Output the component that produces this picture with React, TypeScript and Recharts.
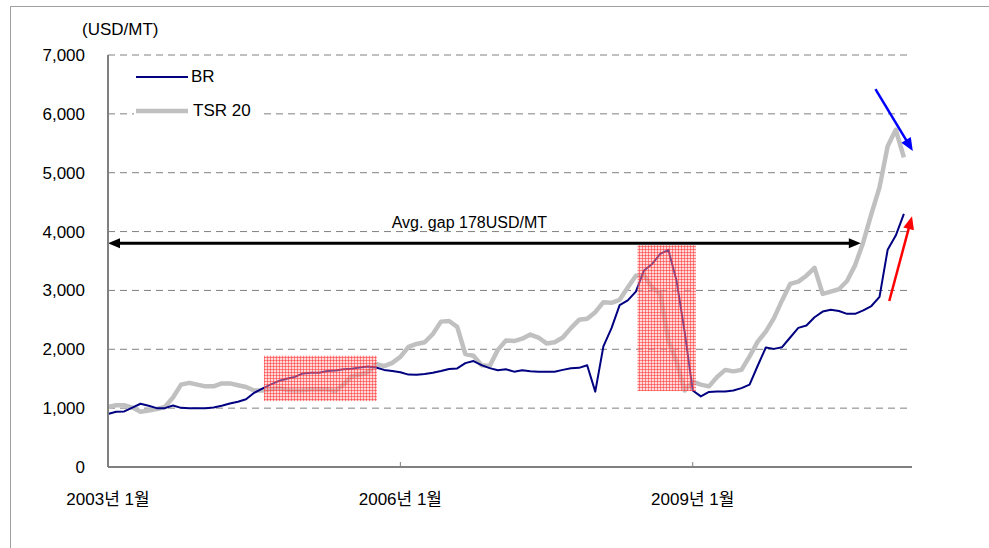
import React from "react";
import {
  LineChart,
  Line,
  XAxis,
  YAxis,
  CartesianGrid,
  Legend,
  ReferenceArea,
  ReferenceLine,
} from "recharts";

// monthly prices, Jan 2003 .. Mar 2011 (USD/MT)
const brPrice = [
  900, 940, 945, 1010, 1075, 1040, 1000, 1000, 1045, 1005, 1000, 1000,
  1000, 1010, 1040, 1080, 1110, 1150, 1260, 1330, 1400, 1460, 1500, 1530,
  1590, 1600, 1600, 1630, 1640, 1660, 1668, 1690, 1708, 1691, 1650, 1630,
  1610, 1570, 1567, 1580, 1600, 1630, 1665, 1675, 1765, 1800, 1730, 1680,
  1645, 1660, 1620, 1645, 1625, 1620, 1620, 1620, 1650, 1677, 1685, 1730,
  1280, 2050, 2360, 2750, 2830, 2980, 3340, 3450, 3620, 3690, 3170, 2300,
  1300, 1200, 1275, 1283, 1283, 1300, 1340, 1400, 1720, 2030, 2007, 2036,
  2200, 2364, 2404, 2545, 2641, 2670, 2650, 2602, 2602, 2660, 2735, 2890,
  3690, 3932, 4300,
];

const tsrPrice = [
  1020, 1050, 1050, 1010, 940, 960, 985, 1020, 1180, 1400, 1430, 1400,
  1370, 1370, 1420, 1420, 1390, 1360, 1300, 1300, 1320, 1340, 1310, 1300,
  1305, 1320, 1320, 1320, 1290, 1400, 1540, 1570, 1610, 1750, 1715, 1770,
  1870, 2040, 2090, 2120, 2260, 2470, 2480, 2380, 1920, 1890, 1730, 1715,
  1990, 2150, 2140, 2180, 2250, 2200, 2100, 2120, 2200, 2360, 2500, 2517,
  2630, 2800, 2790, 2840, 3050, 3250, 3260, 3050, 2950, 2150, 1800, 1300,
  1450, 1400, 1370, 1530, 1650, 1625, 1650, 1880, 2130, 2300, 2530, 2830,
  3110, 3150, 3250, 3383, 2941, 2981, 3020, 3160, 3430, 3819, 4300, 4750,
  5450, 5730, 5262,
];

const tickMonths = [0, 36, 72];
const tickLabels = ["2003년 1월", "2006년 1월", "2009년 1월"];
const yTicks = [0, 1000, 2000, 3000, 4000, 5000, 6000, 7000];

// shaded periods and arrows, in chart units (month index, USD/MT)
const shadedSpans = [
  { x1: 19.2, x2: 33.1, y1: 1120, y2: 1890 },
  { x1: 65.2, x2: 72.4, y1: 1290, y2: 3770 },
];
const gapArrow = { from: 0, to: 92.7, level: 3800, label: "Avg. gap 178USD/MT" };
const tsrArrow = [{ x: 94.5, y: 6420 }, { x: 99.1, y: 5370 }];
const brArrow = [{ x: 96.2, y: 2820 }, { x: 99.0, y: 4260 }];

const months = brPrice.map(
  (_, i) => `${2003 + Math.floor(i / 12)}-${String((i % 12) + 1).padStart(2, "0")}`
);
const data = brPrice.map((br, i) => ({ t: i, month: months[i], br, tsr: tsrPrice[i] }));

const FONT = "'Liberation Sans', Arial, 'Noto Sans CJK KR', sans-serif";

function head(x1: number, y1: number, x2: number, y2: number, len: number, half: number, color: string) {
  const a = Math.atan2(y2 - y1, x2 - x1);
  const bx = x2 - len * Math.cos(a);
  const by = y2 - len * Math.sin(a);
  const px = -Math.sin(a) * half;
  const py = Math.cos(a) * half;
  return (
    <polygon
      points={`${x2},${y2} ${bx + px},${by + py} ${bx - px},${by - py}`}
      fill={color}
    />
  );
}

function arrowShape(color: string, width: number) {
  return (props: any) => {
    const { x1, y1, x2, y2 } = props;
    const a = Math.atan2(y2 - y1, x2 - x1);
    const len = 13;
    return (
      <g>
        <line
          x1={x1}
          y1={y1}
          x2={x2 - (len - 2) * Math.cos(a)}
          y2={y2 - (len - 2) * Math.sin(a)}
          stroke={color}
          strokeWidth={width}
        />
        {head(x1, y1, x2, y2, len, 5.5, color)}
      </g>
    );
  };
}

const gapShape = (props: any) => {
  const { x1, y1, x2, y2 } = props;
  return (
    <g>
      <line x1={x1 + 10} y1={y1} x2={x2 - 10} y2={y2} stroke="#000" strokeWidth={3} />
      {head(x2, y2, x1, y1, 12, 5, "#000")}
      {head(x1, y1, x2, y2, 12, 5, "#000")}
      <text
        x={x1 + (x2 - x1) * 0.48}
        y={y1 - 21}
        textAnchor="middle"
        dominantBaseline="central"
        fontSize={16}
        fontFamily={FONT}
        fill="#000"
      >
        {gapArrow.label}
      </text>
    </g>
  );
};

const hatchShape = (props: any) => {
  const { x, y, width, height } = props;
  return (
    <g>
      <defs>
        <pattern id="redGrid" width="3" height="3" patternUnits="userSpaceOnUse">
          <rect width="3" height="3" fill="rgba(255,170,170,0.45)" />
          <path d="M0 0.5H3M0.5 0V3" stroke="rgba(255,40,40,0.5)" strokeWidth="1" />
        </pattern>
      </defs>
      <rect x={x} y={y} width={width} height={height} fill="url(#redGrid)" />
    </g>
  );
};

function LegendBox() {
  const row = { display: "flex", alignItems: "center", height: 34 } as const;
  const txt = { fontFamily: FONT, fontSize: 17, color: "#000", marginLeft: 3 };
  return (
    <div style={{ background: "#fff", width: 126, paddingLeft: 2 }}>
      <div style={row}>
        <svg width={52} height={6}>
          <line x1={0} y1={3} x2={52} y2={3} stroke="#000080" strokeWidth={2} />
        </svg>
        <span style={txt}>BR</span>
      </div>
      <div style={row}>
        <svg width={52} height={6}>
          <line x1={0} y1={3} x2={52} y2={3} stroke="#c0c0c0" strokeWidth={4.5} />
        </svg>
        <span style={{ ...txt, marginLeft: 5 }}>TSR 20</span>
      </div>
    </div>
  );
}

export default function App() {
  return (
    <div style={{ position: "absolute", left: 0, top: 0, width: 989, height: 548, background: "#fff" }}>
      <div
        style={{
          position: "absolute",
          left: 10,
          top: 6,
          right: 0,
          bottom: 0,
          borderTop: "1px solid #a0a0a0",
          borderLeft: "1px solid #a0a0a0",
        }}
      />
      <div
        style={{
          position: "absolute",
          left: 82,
          top: 21,
          fontFamily: FONT,
          fontSize: 17,
          lineHeight: "18px",
          color: "#000",
        }}
      >
        (USD/MT)
      </div>
      <LineChart
        width={989}
        height={548}
        data={data}
        margin={{ top: 55, right: 77, bottom: 41, left: 48 }}
        style={{ position: "absolute", left: 0, top: 0 }}
      >
        <CartesianGrid vertical={false} stroke="#808080" strokeDasharray="7 5" />
        <XAxis
          type="number"
          dataKey="t"
          domain={[0, 99]}
          ticks={tickMonths}
          tickFormatter={(v) => tickLabels[tickMonths.indexOf(v)] ?? ""}
          height={40}
          axisLine={{ stroke: "#808080", strokeWidth: 2 }}
          tickLine={{ stroke: "#808080" }}
          tickSize={-5}
          tickMargin={31}
          tick={{ fontSize: 17, fontFamily: FONT, fill: "#000" }}
        />
        <YAxis
          domain={[0, 7000]}
          ticks={yTicks}
          width={60}
          tickFormatter={(v) => Number(v).toLocaleString("en-US")}
          axisLine={{ stroke: "#808080", strokeWidth: 2 }}
          tickLine={false}
          tickSize={0}
          tickMargin={23}
          tick={{ fontSize: 17, fontFamily: FONT, fill: "#000" }}
        />
        <Legend
          layout="vertical"
          align="center"
          verticalAlign="middle"
          content={() => <LegendBox />}
          wrapperStyle={{ position: "absolute", left: 134, top: 60, width: "auto" }}
        />
        <Line
          type="linear"
          dataKey="tsr"
          name="TSR 20"
          stroke="#c0c0c0"
          strokeWidth={4.5}
          strokeLinejoin="round"
          dot={false}
          isAnimationActive={false}
        />
        <Line
          type="linear"
          dataKey="br"
          name="BR"
          stroke="#000080"
          strokeWidth={2}
          strokeLinejoin="round"
          dot={false}
          isAnimationActive={false}
        />
        {shadedSpans.map((s, i) => (
          <ReferenceArea
            key={i}
            x1={s.x1}
            x2={s.x2}
            y1={s.y1}
            y2={s.y2}
            ifOverflow="visible"
            shape={hatchShape}
            zIndex={450}
          />
        ))}
        <ReferenceLine
          segment={[
            { x: gapArrow.from, y: gapArrow.level },
            { x: gapArrow.to, y: gapArrow.level },
          ]}
          ifOverflow="visible"
          shape={gapShape}
          zIndex={460}
        />
        <ReferenceLine segment={tsrArrow} ifOverflow="visible" shape={arrowShape("#0000ff", 2.5)} zIndex={460} />
        <ReferenceLine segment={brArrow} ifOverflow="visible" shape={arrowShape("#ff0000", 2.5)} zIndex={460} />
      </LineChart>
    </div>
  );
}
